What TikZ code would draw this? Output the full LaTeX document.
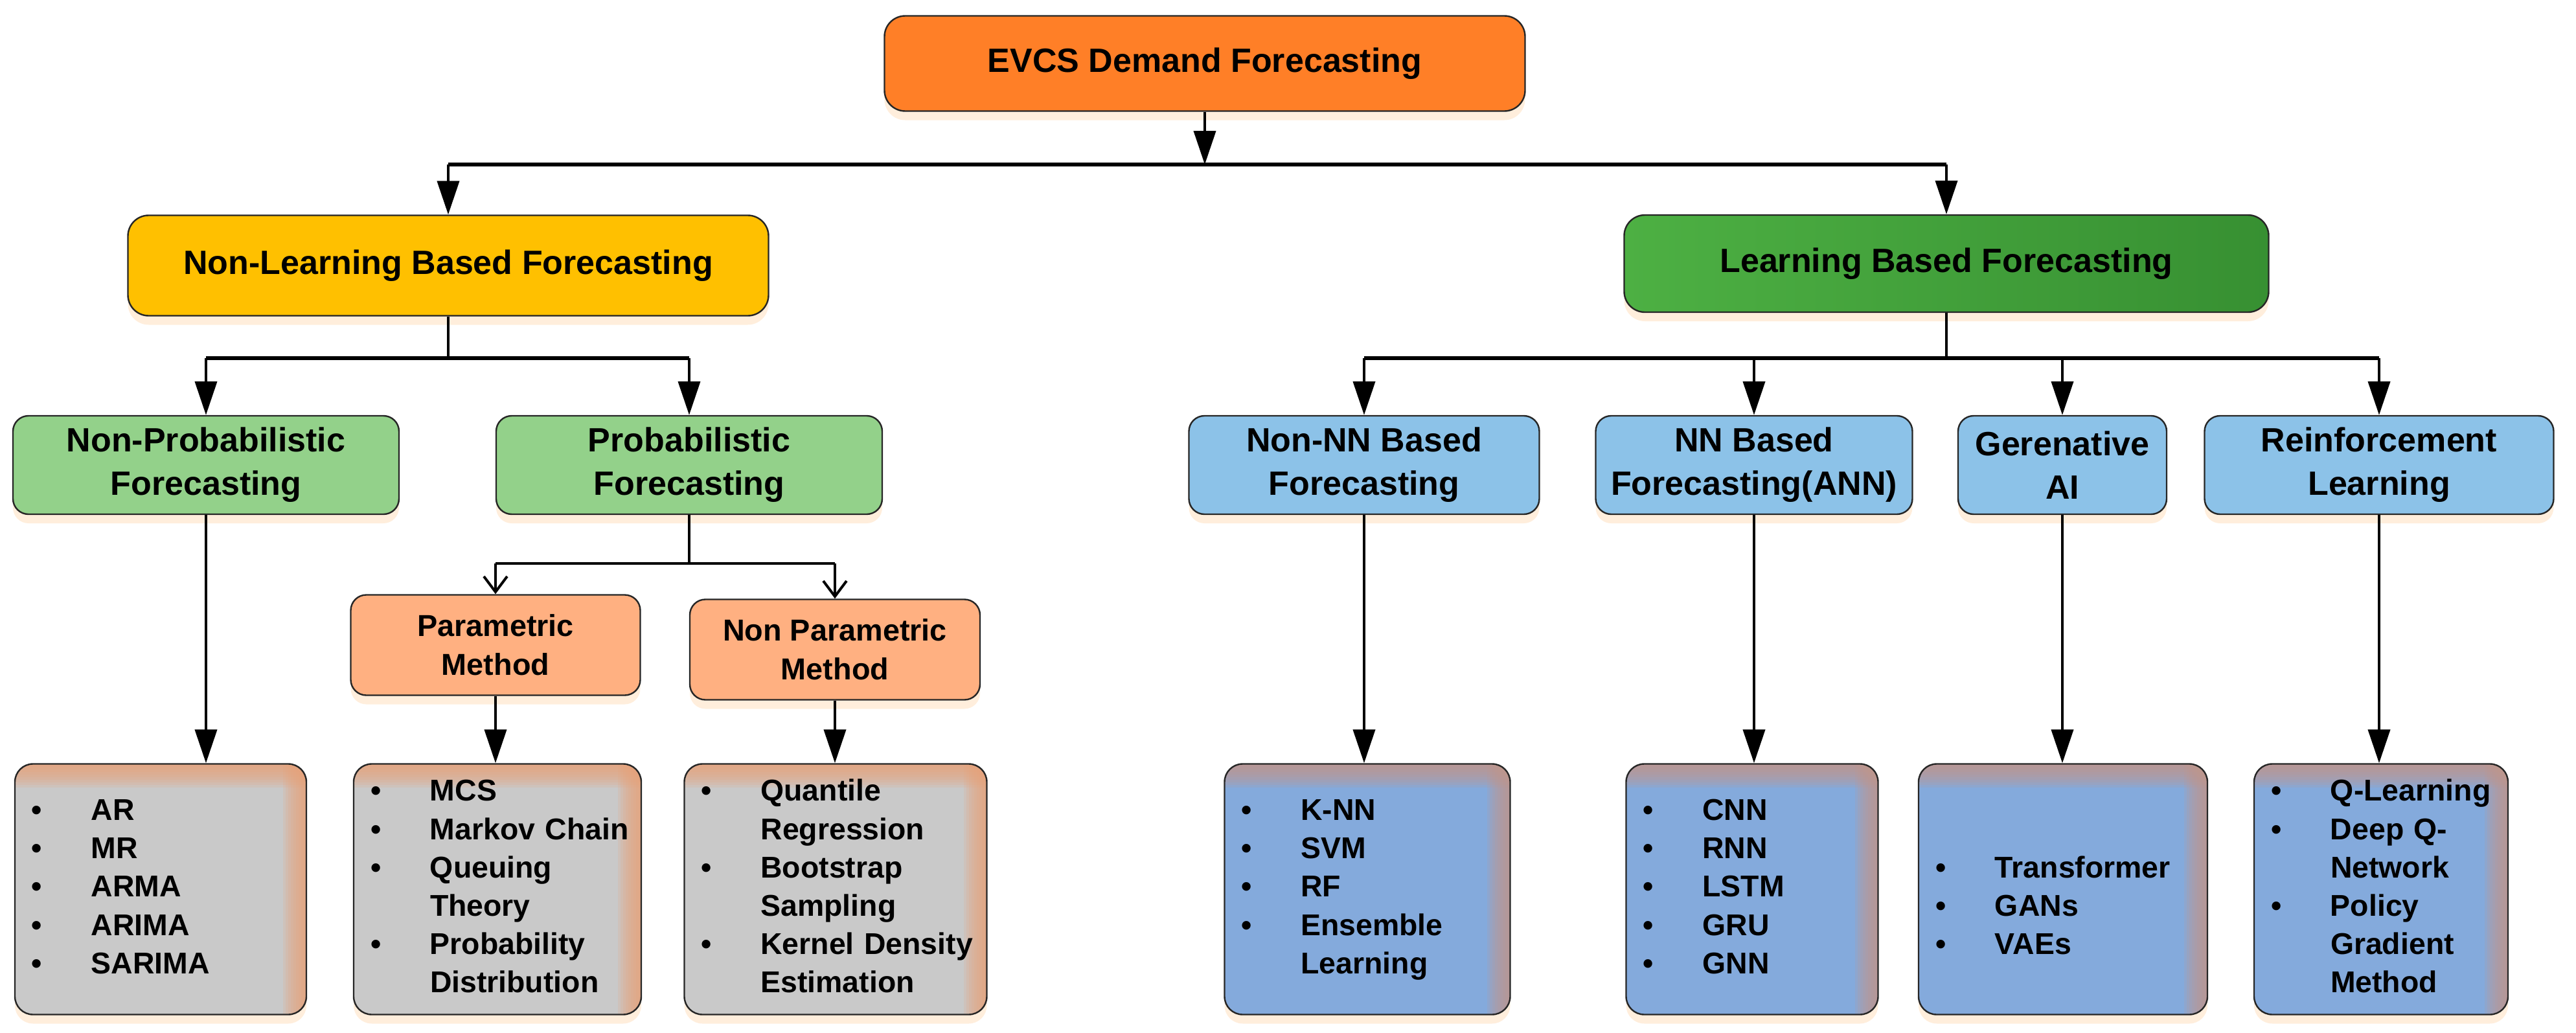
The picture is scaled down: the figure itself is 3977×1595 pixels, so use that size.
\documentclass[tikz,border=0pt]{standalone}
\usepackage{fontspec}
\setmainfont{Liberation Sans}
\usetikzlibrary{arrows.meta,shadows}

\definecolor{ctop}{HTML}{FF7F27}
\definecolor{cnonlearn}{HTML}{FFC000}
\definecolor{clearnL}{HTML}{4DB043}
\definecolor{clearnR}{HTML}{379032}
\definecolor{cgreen}{HTML}{93D18A}
\definecolor{cblue}{HTML}{8CC2E8}
\definecolor{csalmon}{HTML}{FFB081}
\definecolor{cgrey}{HTML}{C9C9C9}
\definecolor{corng}{HTML}{E8A27A}
\definecolor{cblist}{HTML}{84AADC}
\definecolor{cbtop}{HTML}{C4968A}

\newcommand\blist[1]{\noindent\begin{tabular}{@{}p{23pt}@{}l@{}}#1\end{tabular}}
\newcommand\edgeglow[1]{%
  \foreach \k in {1,...,9}{%
    \fill[sharp corners, #1, opacity=0.17] ([xshift=-\k pt]path picture bounding box.north east) rectangle (path picture bounding box.south east);
    \fill[sharp corners, #1, opacity=0.17] (path picture bounding box.north west) rectangle ([yshift=-\k pt]path picture bounding box.north east);
  }}

\tikzset{
  base/.style={draw=black!85, line width=0.6pt, align=center, inner sep=0pt,
    drop shadow={fill=orange!30, opacity=0.45, shadow xshift=0pt, shadow yshift=-3.5pt}},
  lvlA/.style={base, rounded corners=8pt, font=\bfseries\fontsize{13}{16.75}\selectfont},
  lvlB/.style={base, rounded corners=6pt, minimum height=38pt, font=\bfseries\fontsize{13}{16.75}\selectfont},
  lvlC/.style={base, rounded corners=6pt, fill=csalmon, minimum height=38.75pt, font=\bfseries\fontsize{11.7}{15}\selectfont},
  listbox/.style={base, rounded corners=7pt, minimum height=96.75pt, inner xsep=6.5pt, align=left,
    font=\bfseries\fontsize{11.6}{14.8}\selectfont},
  greylist/.style={listbox, fill=cgrey, path picture={\edgeglow{corng}}},
  bluelist/.style={listbox, fill=cblist, path picture={\edgeglow{cbtop}}},
  conn/.style={line width=1pt, black},
  bus/.style={line width=1.4pt, black},
  arr/.style={conn, -{Triangle[length=13pt,width=8.5pt]}},
  openarr/.style={conn, -{Straight Barb[length=6pt,width=9pt,line width=1pt]}},
}

\begin{document}
\begin{tikzpicture}[x=0.25pt, y=-0.25pt]
\useasboundingbox (0,0) rectangle (3977,1595);

% level 0 and 1
\node[lvlA, fill=ctop, minimum width=247.25pt, minimum height=36.75pt] (top) at (1860,98) {EVCS Demand Forecasting};
\node[lvlA, fill=cnonlearn, minimum width=247.25pt, minimum height=38.75pt] (nonlearn) at (692,410) {Non-Learning Based Forecasting};
\node[lvlA, left color=clearnL, right color=clearnR, minimum width=248.75pt, minimum height=37.5pt] (learn) at (3005,407) {Learning Based Forecasting};

% level 2
\node[lvlB, fill=cgreen, minimum width=149pt] (nonprob) at (318,718) {Non-Probabilistic\\Forecasting};
\node[lvlB, fill=cgreen, minimum width=149pt] (prob) at (1064,718) {Probabilistic\\Forecasting};
\node[lvlB, fill=cblue, minimum width=135.25pt] (nonnn) at (2106,718) {Non-NN Based\\Forecasting};
\node[lvlB, fill=cblue, minimum width=122.25pt] (nn) at (2708,718) {NN Based\\Forecasting(ANN)};
\node[lvlB, fill=cblue, minimum width=80.5pt] (gen) at (3184,718) {Gerenative\\AI};
\node[lvlB, fill=cblue, minimum width=134.75pt] (rl) at (3673,718) {Reinforcement\\Learning};

% level 3
\node[lvlC, minimum width=111.75pt] (param) at (765,996) {Parametric\\Method};
\node[lvlC, minimum width=112pt] (nonparam) at (1289,1003) {Non Parametric\\Method};

% level 4
\node[greylist, minimum width=112.5pt, text width=99.5pt] (ar) at (248,1373)
  {\blist{\textbullet & AR\\ \textbullet & MR\\ \textbullet & ARMA\\ \textbullet & ARIMA\\ \textbullet & SARIMA}};
\node[greylist, minimum width=111pt, text width=98pt] (mcs) at (768,1373)
  {\blist{\textbullet & MCS\\ \textbullet & Markov Chain\\ \textbullet & Queuing\\ & Theory\\ \textbullet & Probability\\ & Distribution}};
\node[greylist, minimum width=116.75pt, text width=103.75pt] (quant) at (1290,1373)
  {\blist{\textbullet & Quantile\\ & Regression\\ \textbullet & Bootstrap\\ & Sampling\\ \textbullet & Kernel Density\\ & Estimation}};
\node[bluelist, minimum width=110.25pt, text width=97.25pt] (knn) at (2111,1373)
  {\blist{\textbullet & K-NN\\ \textbullet & SVM\\ \textbullet & RF\\ \textbullet & Ensemble\\ & Learning}};
\node[bluelist, minimum width=97.25pt, text width=84.25pt] (cnn) at (2705,1373)
  {\blist{\textbullet & CNN\\ \textbullet & RNN\\ \textbullet & LSTM\\ \textbullet & GRU\\ \textbullet & GNN}};
\node[bluelist, minimum width=111.5pt, text width=98.5pt] (trans) at (3185,1373)
  {\blist{ & \\ \textbullet & Transformer\\ \textbullet & GANs\\ \textbullet & VAEs}};
\node[bluelist, minimum width=98pt, text width=85pt] (ql) at (3676,1373)
  {\blist{\textbullet & Q-Learning\\ \textbullet & Deep Q-\\ & Network\\ \textbullet & Policy\\ & Gradient\\ & Method}};

% bus coordinates
\coordinate (b1) at (1860,254);
\coordinate (b2) at (692,553);
\coordinate (b3) at (3005,553);
\coordinate (b4) at (1064,870);

% top level connectors
\draw[arr] (top.south) -- (b1);
\draw[bus] (b1 -| nonlearn) -- (b1 -| learn);
\draw[arr] (b1 -| nonlearn) -- (nonlearn.north);
\draw[arr] (b1 -| learn) -- (learn.north);

% non-learning branch
\draw[conn] (nonlearn.south) -- (b2);
\draw[bus] (b2 -| nonprob) -- (b2 -| prob);
\draw[arr] (b2 -| nonprob) -- (nonprob.north);
\draw[arr] (b2 -| prob) -- (prob.north);

% learning branch
\draw[conn] (learn.south) -- (b3);
\draw[bus] (b3 -| nonnn) -- (b3 -| rl);
\draw[arr] (b3 -| nonnn) -- (nonnn.north);
\draw[arr] (b3 -| nn) -- (nn.north);
\draw[arr] (b3 -| gen) -- (gen.north);
\draw[arr] (b3 -| rl) -- (rl.north);

% probabilistic branch
\draw[conn] (prob.south) -- (b4);
\draw[conn] (b4 -| param) -- (b4 -| nonparam);
\draw[openarr] (b4 -| param) -- (param.north);
\draw[openarr] (b4 -| nonparam) -- (nonparam.north);

% down to lists
\draw[arr] (nonprob.south) -- (nonprob.south |- ar.north);
\draw[arr] (param.south) -- (param.south |- mcs.north);
\draw[arr] (nonparam.south) -- (nonparam.south |- quant.north);
\draw[arr] (nonnn.south) -- (nonnn.south |- knn.north);
\draw[arr] (nn.south) -- (nn.south |- cnn.north);
\draw[arr] (gen.south) -- (gen.south |- trans.north);
\draw[arr] (rl.south) -- (rl.south |- ql.north);
\end{tikzpicture}
\end{document}
